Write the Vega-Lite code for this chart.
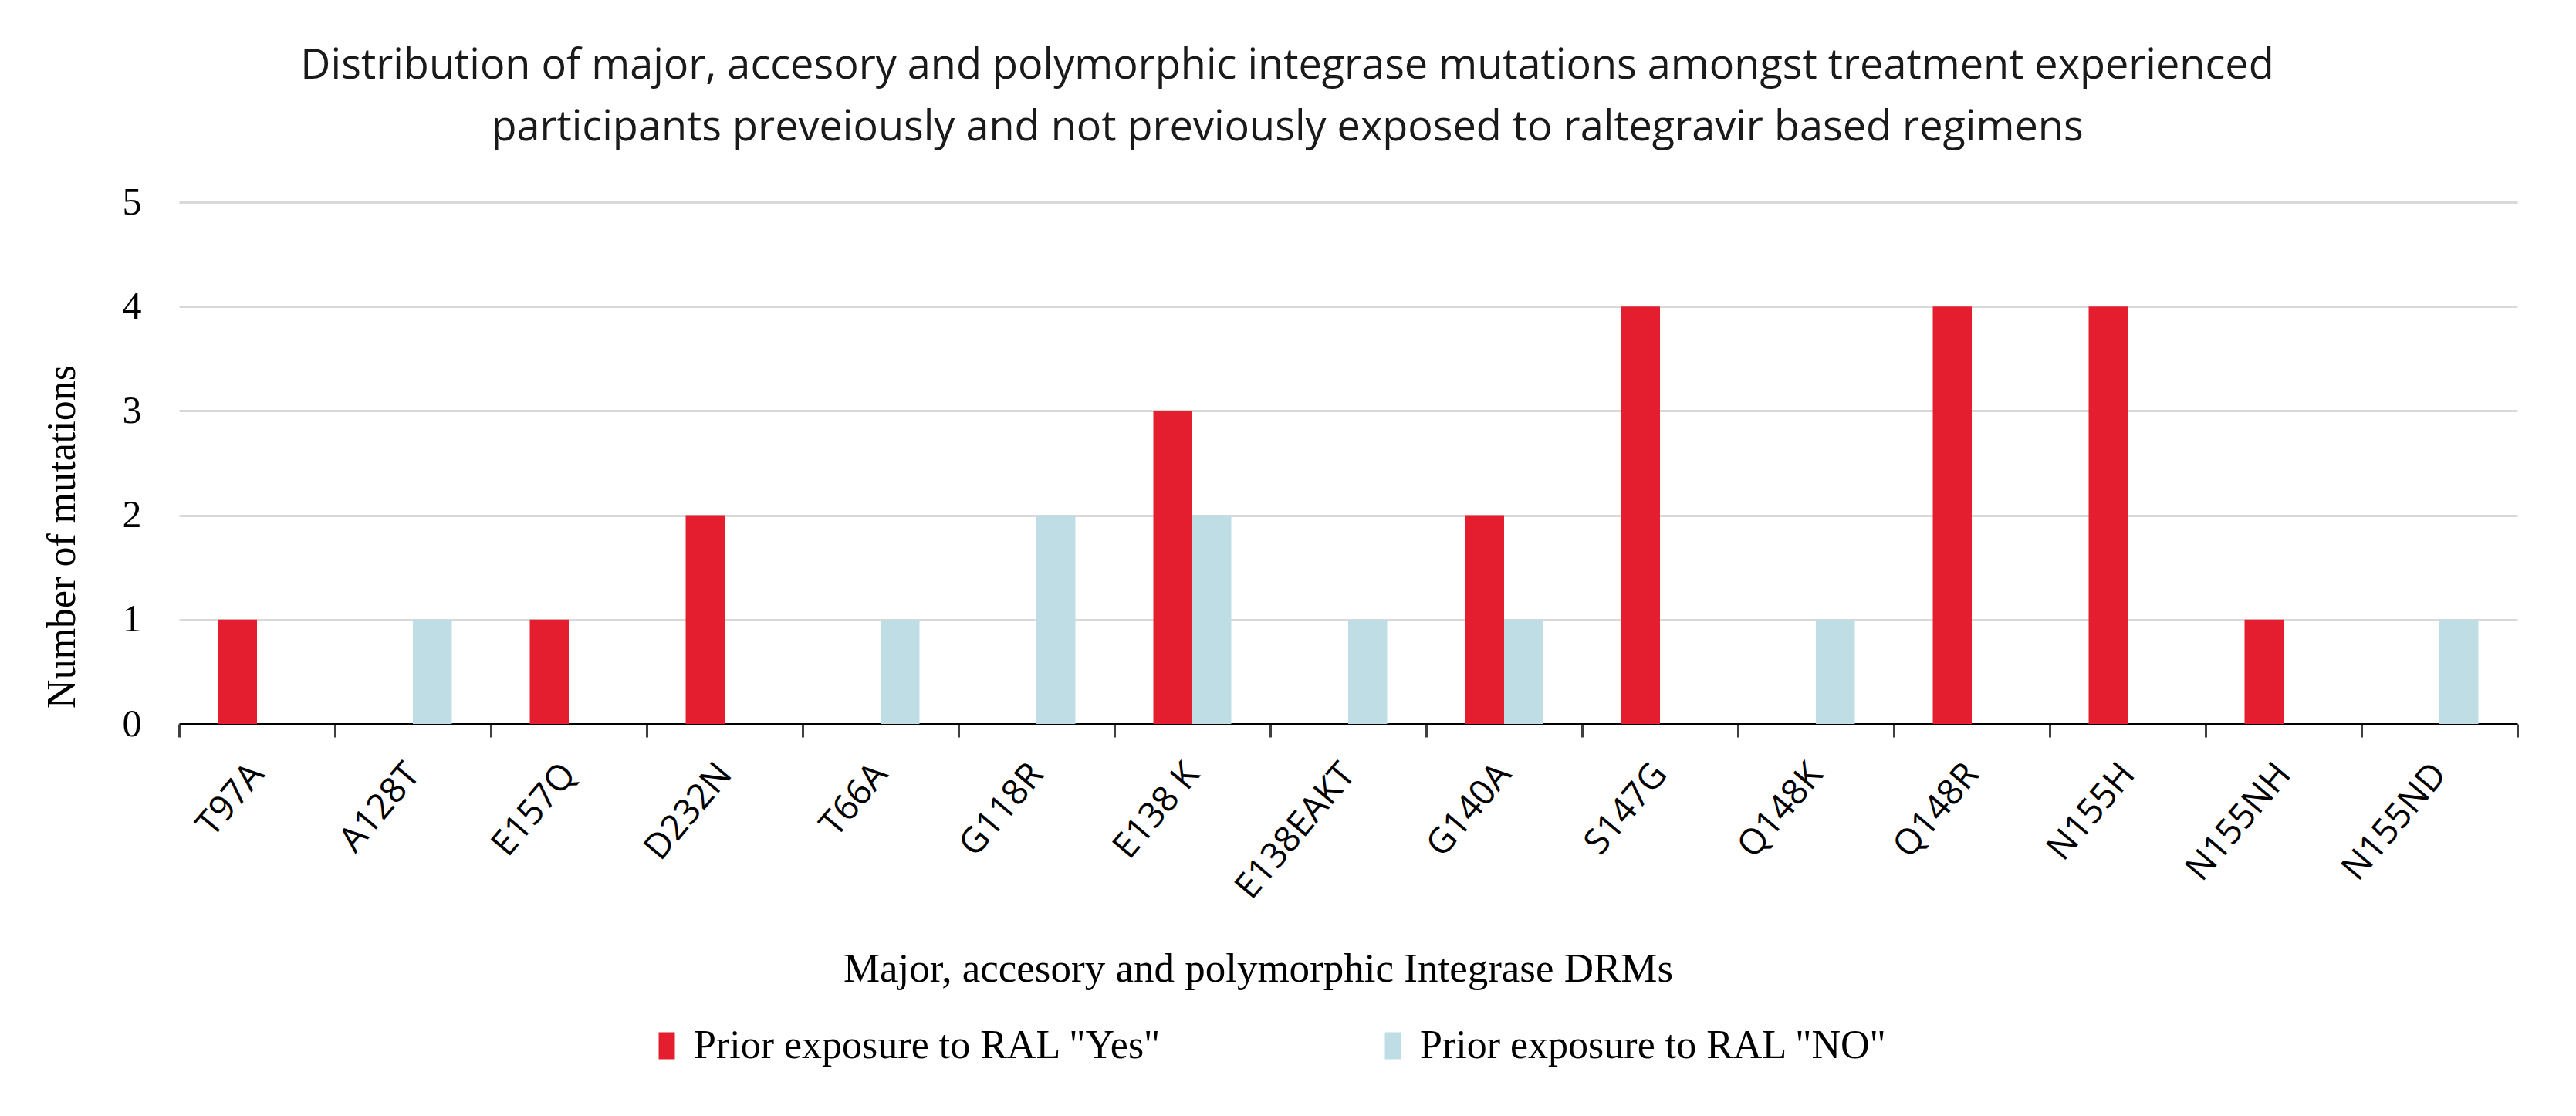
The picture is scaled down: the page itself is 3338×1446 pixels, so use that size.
{
  "$schema": "https://vega.github.io/schema/vega-lite/v6.json",
  "autosize": {"type": "none"},
  "width": 3030,
  "height": 676,
  "padding": {"left": 232, "top": 262, "right": 76, "bottom": 508},
  "background": "white",
  "title": {
    "text": ["Distribution of major, accesory and polymorphic integrase mutations amongst treatment experienced", "participants preveiously and not previously exposed to raltegravir based regimens"],
    "font": "Open Sans",
    "fontSize": 54,
    "fontWeight": "normal",
    "color": "#1a1a1a",
    "lineHeight": 80,
    "anchor": "middle",
    "dx": -79,
    "offset": 44
  },
  "data": {
    "values": [
      {"mutation": "T97A", "exposure": "Prior exposure to RAL \"Yes\"", "count": 1},
      {"mutation": "A128T", "exposure": "Prior exposure to RAL \"NO\"", "count": 1},
      {"mutation": "E157Q", "exposure": "Prior exposure to RAL \"Yes\"", "count": 1},
      {"mutation": "D232N", "exposure": "Prior exposure to RAL \"Yes\"", "count": 2},
      {"mutation": "T66A", "exposure": "Prior exposure to RAL \"NO\"", "count": 1},
      {"mutation": "G118R", "exposure": "Prior exposure to RAL \"NO\"", "count": 2},
      {"mutation": "E138 K", "exposure": "Prior exposure to RAL \"Yes\"", "count": 3},
      {"mutation": "E138 K", "exposure": "Prior exposure to RAL \"NO\"", "count": 2},
      {"mutation": "E138EAKT", "exposure": "Prior exposure to RAL \"NO\"", "count": 1},
      {"mutation": "G140A", "exposure": "Prior exposure to RAL \"Yes\"", "count": 2},
      {"mutation": "G140A", "exposure": "Prior exposure to RAL \"NO\"", "count": 1},
      {"mutation": "S147G", "exposure": "Prior exposure to RAL \"Yes\"", "count": 4},
      {"mutation": "Q148K", "exposure": "Prior exposure to RAL \"NO\"", "count": 1},
      {"mutation": "Q148R", "exposure": "Prior exposure to RAL \"Yes\"", "count": 4},
      {"mutation": "N155H", "exposure": "Prior exposure to RAL \"Yes\"", "count": 4},
      {"mutation": "N155NH", "exposure": "Prior exposure to RAL \"Yes\"", "count": 1},
      {"mutation": "N155ND", "exposure": "Prior exposure to RAL \"NO\"", "count": 1}
    ]
  },
  "mark": {"type": "bar"},
  "encoding": {
    "x": {
      "field": "mutation",
      "type": "nominal",
      "sort": ["T97A", "A128T", "E157Q", "D232N", "T66A", "G118R", "E138 K", "E138EAKT", "G140A", "S147G", "Q148K", "Q148R", "N155H", "N155NH", "N155ND"],
      "scale": {"paddingInner": 0, "paddingOuter": 0},
      "axis": {
        "title": "Major, accesory and polymorphic Integrase DRMs",
        "titleFont": "Liberation Serif",
        "titleFontSize": 53,
        "titleFontWeight": "normal",
        "titleColor": "#000000",
        "titleX": 1398,
        "titleY": 317,
        "titleBaseline": "middle",
        "titleAlign": "center",
        "labelAngle": -50,
        "labelFont": "Open Sans",
        "labelFontSize": 46,
        "labelColor": "#000000",
        "labelAlign": "right",
        "labelBaseline": "middle",
        "labelPadding": 40,
        "labelLimit": 600,
        "tickBand": "extent",
        "tickSize": 17,
        "tickWidth": 3,
        "tickColor": "#404040",
        "domainColor": "#000000",
        "domainWidth": 3,
        "grid": false
      }
    },
    "xOffset": {
      "field": "exposure",
      "type": "nominal",
      "scale": {"domain": ["Prior exposure to RAL \"Yes\"", "Prior exposure to RAL \"NO\""], "paddingInner": 0, "paddingOuter": 1}
    },
    "y": {
      "field": "count",
      "type": "quantitative",
      "scale": {"domain": [0, 5]},
      "axis": {
        "title": "Number of mutations",
        "titleFont": "Liberation Serif",
        "titleFontSize": 52,
        "titleFontWeight": "normal",
        "titleColor": "#000000",
        "titleAngle": -90,
        "titleX": -152,
        "titleY": 433,
        "titleBaseline": "middle",
        "titleAlign": "center",
        "values": [0, 1, 2, 3, 4, 5],
        "labelFont": "Liberation Serif",
        "labelFontSize": 50,
        "labelColor": "#000000",
        "labelPadding": 49,
        "ticks": false,
        "domain": false,
        "grid": true,
        "gridColor": "#d9d9d9",
        "gridWidth": 3
      }
    },
    "color": {
      "field": "exposure",
      "type": "nominal",
      "scale": {"domain": ["Prior exposure to RAL \"Yes\"", "Prior exposure to RAL \"NO\""], "range": ["#e41e2e", "#bfdde4"]},
      "legend": {
        "title": null,
        "orient": "none",
        "legendX": 606,
        "legendY": 1067,
        "direction": "horizontal",
        "columns": 2,
        "columnPadding": 273,
        "padding": 0,
        "symbolType": "M-0.6,-1H0.6V1H-0.6Z",
        "symbolSize": 1225,
        "symbolStrokeWidth": 0,
        "labelFont": "Liberation Serif",
        "labelFontSize": 52,
        "labelColor": "#000000",
        "labelOffset": 9,
        "labelLimit": 1000
      }
    }
  },
  "config": {"view": {"stroke": null}}
}
